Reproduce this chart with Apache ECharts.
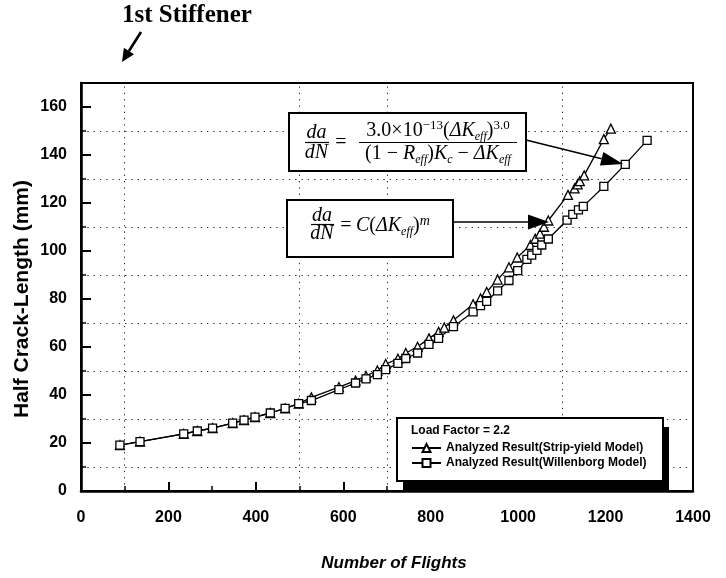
<!DOCTYPE html>
<html><head><meta charset="utf-8">
<script src="https://cdn.jsdelivr.net/npm/echarts@6/dist/echarts.min.js"></script>
<style>html,body{margin:0;padding:0;background:#fff}#c{width:726px;height:578px}</style>
</head><body><div id="c"></div>
<script>
// ---- data ----
const flightsStrip = [89,135,235,266,301,347,373,398,433,467,498,527,590,628,652,678,697,725,743,770,796,818,831,852,897,914,928,953,979,998,1028,1039,1050,1059,1069,1114,1129,1136,1141,1151,1196,1212];
const crackStrip   = [19.1,20.6,23.8,25.0,26.2,28.3,29.5,30.8,32.5,34.4,36.4,39.0,43.3,46.0,47.9,50.2,52.9,55.1,57.5,60.1,63.6,66.3,68.1,71.1,77.8,80.2,82.9,88.1,93.2,97.3,102.5,105.1,107.2,110.1,112.7,123.4,126.1,127.8,129.1,131.5,146.6,151.0];
const flightsWill  = [89,135,235,266,301,347,373,398,433,467,498,527,590,628,652,678,697,725,743,770,796,818,852,897,914,928,953,979,999,1020,1031,1043,1054,1069,1112,1125,1138,1149,1196,1245,1295];
const crackWill    = [19.1,20.6,23.8,25.0,26.2,28.3,29.5,30.8,32.5,34.4,36.4,37.7,42.2,45.0,46.7,48.5,50.6,53.2,55.2,57.5,61.1,63.6,68.5,74.6,77.2,79.0,83.4,87.7,91.8,96.5,98.3,100.3,102.5,105.0,112.9,115.3,117.1,118.6,126.9,136.1,146.1];
const seriesNames  = ['Analyzed Result(Strip-yield Model)', 'Analyzed Result(Willenborg Model)'];
const gridFlights  = [100, 500, 700, 1100];
const gridCrack    = [10, 30, 50, 70, 90, 110, 130, 150];
const xTitle = 'Number of Flights';
const yTitle = 'Half Crack-Length (mm)';
const legendTitle = 'Load Factor = 2.2';
const stiffenerLabel = '1st Stiffener';

function pairs(xs, ys) { return xs.map((x, i) => [x, ys[i]]); }

function arrow(x1, y1, x2, y2, len, w, lw) {
  const dx = x2 - x1, dy = y2 - y1, d = Math.hypot(dx, dy);
  const ux = dx / d, uy = dy / d, nx = -uy, ny = ux;
  const bx = x2 - ux * len, by = y2 - uy * len;
  return [
    { type: 'line', z: 12, shape: { x1, y1, x2: bx, y2: by }, style: { stroke: '#000', lineWidth: lw } },
    { type: 'polygon', z: 12, shape: { points: [[x2, y2], [bx + nx * w / 2, by + ny * w / 2], [bx - nx * w / 2, by - ny * w / 2]] }, style: { fill: '#000' } }
  ];
}

const SERIF = '"Liberation Serif", "DejaVu Serif", serif';
const SANS = '"Liberation Sans", Arial, sans-serif';
const rich = {
  n:   { fontFamily: SERIF, fontSize: 20, lineHeight: 24, color: '#000' },
  i:   { fontFamily: SERIF, fontSize: 20, fontStyle: 'italic', lineHeight: 24, color: '#000' },
  sup: { fontFamily: SERIF, fontSize: 13, lineHeight: 11, verticalAlign: 'top', color: '#000' },
  supi:{ fontFamily: SERIF, fontSize: 14, fontStyle: 'italic', lineHeight: 11, verticalAlign: 'top', color: '#000' },
  sub: { fontFamily: SERIF, fontSize: 12, fontStyle: 'italic', lineHeight: 12, verticalAlign: 'bottom', color: '#000' }
};
function txt(text, x, y, extra) {
  return { type: 'text', z: 13, style: Object.assign({ text, x, y, fill: '#000', align: 'center', verticalAlign: 'middle', fontFamily: SERIF, fontSize: 20, rich }, extra || {}) };
}
function hline(x1, x2, y, lw) {
  return { type: 'line', z: 13, shape: { x1, y1: y, x2, y2: y }, style: { stroke: '#000', lineWidth: lw || 1.2 } };
}

const graphics = [
  { type: 'text', z: 13, style: { text: stiffenerLabel, x: 122, y: 16, fill: '#000', fontFamily: SERIF, fontWeight: 'bold', fontSize: 25, align: 'left', verticalAlign: 'middle' } },
  ...arrow(141, 32, 122, 62, 13, 12, 2.6),
  // y axis title
  { type: 'text', z: 13, x: 22, y: 299, rotation: Math.PI / 2, style: { text: yTitle, x: 0, y: 0, fill: '#000', fontFamily: SANS, fontWeight: 'bold', fontSize: 21, align: 'center', verticalAlign: 'middle' } },
  // formula box 1
  { type: 'rect', z: 10, shape: { x: 289, y: 113, width: 237, height: 58 }, style: { fill: '#fff', stroke: '#000', lineWidth: 2 } },
  txt('{i|da}', 316.5, 132.5), hline(305, 329, 142.5), txt('{i|dN}', 316.5, 152.5),
  txt('{n|=}', 341, 143),
  txt('{n|3.0×10}{sup|−13}{n|(}{i|ΔK}{sub|eff}{n|)}{sup|3.0}', 438, 131),
  hline(359, 517, 142.5),
  txt('{n|(1 − }{i|R}{sub|eff}{n|)}{i|K}{sub|c}{n| − }{i|ΔK}{sub|eff}', 438, 153.5),
  // formula box 2
  { type: 'rect', z: 10, shape: { x: 287, y: 200, width: 166, height: 57 }, style: { fill: '#fff', stroke: '#000', lineWidth: 2 } },
  txt('{i|da}', 322, 215.5), hline(311, 334, 224.5), txt('{i|dN}', 322, 234),
  txt('{n|=}', 346, 225.5),
  txt('{i|C}{n|(}{i|ΔK}{sub|eff}{n|)}{supi|m}', 356, 226, { align: 'left' }),
  ...arrow(526, 140, 623, 164, 22, 14, 1.5),
  ...arrow(453, 222, 549, 222, 21, 15, 1.5),
  // legend box with shadow
  { type: 'rect', z: 10, shape: { x: 403, y: 427, width: 266, height: 63 }, style: { fill: '#000' } },
  { type: 'rect', z: 11, shape: { x: 397, y: 418, width: 266, height: 63 }, style: { fill: '#fff', stroke: '#000', lineWidth: 2 } },
  { type: 'text', z: 13, style: { text: legendTitle, x: 411, y: 431, fill: '#000', fontFamily: SANS, fontWeight: 'bold', fontSize: 12, align: 'left', verticalAlign: 'middle' } }
];

const axisText = { color: '#000', fontFamily: SANS, fontWeight: 'bold', fontSize: 16 };

const option = {
  animation: false,
  backgroundColor: '#fff',
  textStyle: { fontFamily: SANS },
  grid: { left: 81, right: 33, top: 83, bottom: 87, show: true, borderColor: '#000', borderWidth: 2, backgroundColor: 'transparent', containLabel: false, outerBoundsMode: 'none' },
  xAxis: [
    { type: 'value', min: 0, max: 1400, interval: 200, position: 'bottom',
      axisLine: { show: true, onZero: false, lineStyle: { color: '#000', width: 2.6 } },
      axisTick: { show: true, inside: true, length: 9, lineStyle: { color: '#000', width: 2 } },
      axisLabel: Object.assign({ margin: 19, formatter: v => String(v) }, axisText),
      splitLine: { show: false },
      name: xTitle, nameLocation: 'middle', nameGap: 64,
      nameTextStyle: { color: '#000', fontFamily: SANS, fontWeight: 'bold', fontStyle: 'italic', fontSize: 17, padding: [0, 0, 0, 14] } },
    { type: 'value', min: 0, max: 1400, interval: 100, position: 'bottom', offset: 0,
      axisLine: { show: false }, axisLabel: { show: false }, splitLine: { show: false },
      axisTick: { show: true, inside: true, length: 5, lineStyle: { color: '#000', width: 1.5 } } }
  ],
  yAxis: [
    { type: 'value', min: 0, max: 170, interval: 20, position: 'left',
      axisLine: { show: true, onZero: false, lineStyle: { color: '#000', width: 2.6 } },
      axisTick: { show: true, inside: true, length: 10, lineStyle: { color: '#000', width: 2 } },
      axisLabel: Object.assign({ margin: 14, formatter: v => (v % 20 === 0 ? String(v) : '') }, axisText),
      splitLine: { show: false } },
    { type: 'value', min: 0, max: 170, interval: 10, position: 'left', offset: 0,
      axisLine: { show: false }, axisLabel: { show: false }, splitLine: { show: false },
      axisTick: { show: true, inside: true, length: 5, lineStyle: { color: '#000', width: 1.5 } } }
  ],
  legend: {
    show: true, orient: 'vertical', left: 411, top: 442, itemGap: 3, itemWidth: 29, itemHeight: 10, padding: 0, z: 20,
    data: seriesNames,
    textStyle: { color: '#000', fontFamily: SANS, fontWeight: 'bold', fontSize: 12 }
  },
  series: [
    { name: seriesNames[0], type: 'line', xAxisIndex: 0, yAxisIndex: 0, z: 5,
      data: pairs(flightsStrip, crackStrip), symbol: 'triangle', symbolSize: 9, showAllSymbol: true,
      lineStyle: { color: '#000', width: 1.3 }, itemStyle: { color: '#fff', borderColor: '#000', borderWidth: 1.3 },
      markLine: { silent: true, symbol: ['none', 'none'], label: { show: false }, animation: false,
        lineStyle: { color: '#000', width: 1, type: [1.3, 5], opacity: 0.85 },
        data: [...gridFlights.map(v => ({ xAxis: v })), ...gridCrack.map(v => ({ yAxis: v }))] } },
    { name: seriesNames[1], type: 'line', xAxisIndex: 0, yAxisIndex: 0, z: 5,
      data: pairs(flightsWill, crackWill), symbol: 'rect', symbolSize: 8, showAllSymbol: true,
      lineStyle: { color: '#000', width: 1.3 }, itemStyle: { color: '#fff', borderColor: '#000', borderWidth: 1.3 } }
  ],
  graphic: { elements: graphics }
};

const chart = echarts.init(document.getElementById('c'), null, { renderer: 'canvas' });
chart.setOption(option);
</script>
</body></html>
